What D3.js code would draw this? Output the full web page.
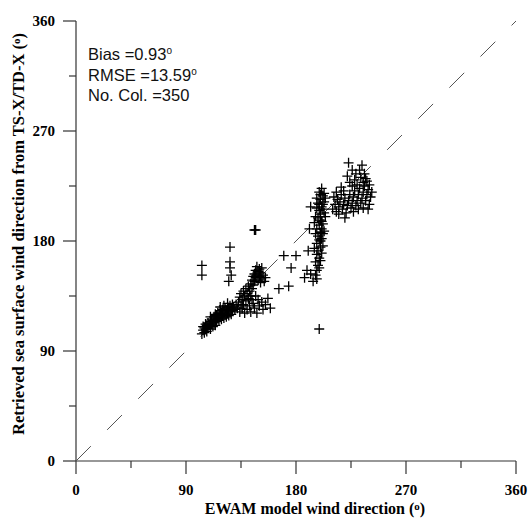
<!DOCTYPE html>
<html>
<head>
<meta charset="utf-8">
<script src="https://cdnjs.cloudflare.com/ajax/libs/d3/7.8.5/d3.min.js"></script>
<style>
    body { margin: 0; background: #fff; }
    svg { display: block; }
</style>
</head>
<body>
<div id="chart"></div>
<script>
// axis ticks (degrees)
var majorTicks = [0, 90, 180, 270, 360];
var minorTicks = [45, 135, 225, 315];

// annotation lines
var statLines = [
    {label: "Bias =0.93", deg: true},
    {label: "RMSE =13.59", deg: true},
    {label: "No. Col. =350", deg: false}
];

// [EWAM direction, retrieved direction]
var pointsLow = [
    [103,104],[104,107],[105,105],[105,109],[106,108],[107,106],[107,111],[108,109],[108,113],[109,111],
    [110,108],[110,114],[111,112],[111,116],[112,110],[112,115],[113,113],[113,118],[114,116],[114,111],
    [115,119],[115,114],[116,117],[116,121],[117,115],[117,120],[118,118],[118,123],[119,116],[119,121],
    [120,119],[120,124],[121,122],[121,117],[122,125],[122,120],[123,123],[123,118],[124,126],[124,121],
    [125,124],[125,119],[126,127],[126,122],[127,125],[127,120],[128,128],[128,123],[129,126],[130,124],
    [131,128],[132,125],[114,120],[118,126],[121,127],[124,129],[110,118],[106,112],[104,110]
];
var pointsMid = [
    [133,130],[134,134],[135,127],[135,137],[136,132],[137,139],[137,128],[138,135],[139,141],[139,131],
    [140,137],[141,143],[141,133],[142,139],[143,145],[143,135],[144,148],[144,141],[145,151],[145,144],
    [146,153],[146,147],[147,156],[147,150],[148,159],[148,152],[149,155],[149,148],[150,157],[150,151],
    [151,154],[151,146],[152,158],[152,150],[153,152],[154,147],[155,150],[134,122],[136,125],[138,121],
    [140,124],[142,127],[143,122],[145,129],[146,125],[148,121],[149,132],[150,127],[152,130],[153,124],
    [155,128],[157,133],[159,125],[147,135],[144,132]
];
var pointsColumn = [
    [196,152],[197,156],[198,160],[196,163],[199,166],[197,169],[198,172],[200,175],[197,178],[199,181],
    [198,184],[200,187],[197,190],[199,193],[201,196],[198,199],[200,202],[199,205],[201,208],[198,211],
    [200,214],[202,217],[199,220],[201,223],[203,219],[203,212],[202,206],[204,200],[202,194],[203,188],
    [201,182],[202,176],[201,170],[200,164],[199,158],[202,210],[204,215],[196,186],[195,174],[196,200],
    [197,207],[195,195],[200,197],[201,190],[202,186],[200,180],[199,210],[200,218],[197,215],[203,203],
    [190,172],[191,190],[192,208],[189,156],[192,153],[194,147],[197,149],[187,150]
];
var pointsTop = [
    [210,206],[212,210],[213,204],[214,214],[215,208],[216,212],[217,218],[218,206],[219,210],[220,215],
    [221,203],[222,209],[223,213],[224,218],[225,207],[226,211],[227,216],[228,221],[229,209],[230,213],
    [231,218],[232,223],[233,211],[234,215],[235,220],[236,225],[237,213],[238,218],[239,222],[240,210],
    [241,216],[242,220],[235,228],[233,232],[237,231],[230,226],[228,230],[226,225],[224,228],[222,233],
    [223,244],[226,238],[236,235],[238,229],[240,226],[231,206],[235,207],[239,206],[227,204],[217,224],
    [219,221],[213,220],[211,216],[215,202],[220,199],[232,238],[229,235],[234,242]
];
var pointsScatter = [
    [103,160],[103,152],[126,175],[126,163],[126,158],[127,152],[125,147],[146,189],[147,189],
    [170,168],[180,168],[176,158],[166,141],[174,143],[199,108]
];

var allPoints = pointsLow.concat(pointsMid, pointsColumn, pointsTop, pointsScatter);

var W = 528, H = 519;
var margin = {left: 76, top: 21};
var plotW = 440, plotH = 440;

var svg = d3.select("#chart").append("svg")
    .attr("width", W)
    .attr("height", H);

var x = d3.scaleLinear().domain([0, 360]).range([margin.left, margin.left + plotW]);
var y = d3.scaleLinear().domain([0, 360]).range([margin.top + plotH, margin.top]);

var AXIS_COLOR = "#333";
var serif = "'Liberation Serif', 'Times New Roman', serif";

// x axis
var xAxis = svg.append("g")
    .attr("transform", "translate(0," + y(0) + ")");
xAxis.append("line")
    .attr("x1", x(0)).attr("x2", x(360))
    .attr("stroke", AXIS_COLOR).attr("stroke-width", 1.2);
xAxis.selectAll(".major").data(majorTicks).enter().append("line")
    .attr("x1", function (d) { return x(d); })
    .attr("x2", function (d) { return x(d); })
    .attr("y1", 0).attr("y2", 13)
    .attr("stroke", AXIS_COLOR).attr("stroke-width", 1.2);
xAxis.selectAll(".minor").data(minorTicks).enter().append("line")
    .attr("x1", function (d) { return x(d); })
    .attr("x2", function (d) { return x(d); })
    .attr("y1", 0).attr("y2", 7)
    .attr("stroke", AXIS_COLOR).attr("stroke-width", 1.2);
xAxis.selectAll(".lbl").data(majorTicks).enter().append("text")
    .attr("x", function (d) { return x(d); })
    .attr("y", 34)
    .attr("text-anchor", "middle")
    .style("font-family", serif)
    .style("font-weight", "bold")
    .style("font-size", "15px")
    .text(function (d) { return d; });

// y axis
var yAxis = svg.append("g")
    .attr("transform", "translate(" + x(0) + ",0)");
yAxis.append("line")
    .attr("y1", y(0)).attr("y2", y(360))
    .attr("stroke", AXIS_COLOR).attr("stroke-width", 1.2);
yAxis.selectAll(".major").data(majorTicks).enter().append("line")
    .attr("y1", function (d) { return y(d); })
    .attr("y2", function (d) { return y(d); })
    .attr("x1", 0).attr("x2", -13)
    .attr("stroke", AXIS_COLOR).attr("stroke-width", 1.2);
yAxis.selectAll(".minor").data(minorTicks).enter().append("line")
    .attr("y1", function (d) { return y(d); })
    .attr("y2", function (d) { return y(d); })
    .attr("x1", 0).attr("x2", -7)
    .attr("stroke", AXIS_COLOR).attr("stroke-width", 1.2);
yAxis.selectAll(".lbl").data(majorTicks).enter().append("text")
    .attr("x", -21)
    .attr("y", function (d) { return y(d) + 5; })
    .attr("text-anchor", "end")
    .style("font-family", serif)
    .style("font-weight", "bold")
    .style("font-size", "15px")
    .text(function (d) { return d; });

// 1:1 line
svg.append("line")
    .attr("x1", x(0)).attr("y1", y(0))
    .attr("x2", x(360)).attr("y2", y(360))
    .attr("stroke", "#555")
    .attr("stroke-width", 1)
    .attr("stroke-dasharray", "21,23");

// points as + markers
var arm = 5;
svg.append("g").selectAll(".pt").data(allPoints).enter().append("path")
    .attr("class", "pt")
    .attr("d", function (d) {
        var px = x(d[0]), py = y(d[1]);
        return "M" + (px - arm) + "," + py + "H" + (px + arm) +
            "M" + px + "," + (py - arm) + "V" + (py + arm);
    })
    .attr("stroke", "#000")
    .attr("stroke-width", 1.3)
    .attr("fill", "none");

// stats text
var stats = svg.append("g");
statLines.forEach(function (s, i) {
    var t = stats.append("text")
        .attr("x", 88)
        .attr("y", 60 + i * 20.5)
        .style("font-family", "'Liberation Sans', Arial, sans-serif")
        .style("font-size", "16.5px")
        .attr("fill", "#111");
    t.append("tspan").text(s.label);
    if (s.deg) {
        t.append("tspan").attr("dy", -6).style("font-size", "10px").text("o");
    }
});

// axis titles
var xt = svg.append("text")
    .attr("x", 315)
    .attr("y", 514)
    .attr("text-anchor", "middle")
    .style("font-family", serif)
    .style("font-weight", "bold")
    .style("font-size", "16px");
xt.append("tspan").text("EWAM model wind direction (");
xt.append("tspan").attr("dy", -4).style("font-size", "11px").text("o");
xt.append("tspan").attr("dy", 4).text(")");

var yt = svg.append("text")
    .attr("transform", "translate(24,234) rotate(-90)")
    .attr("text-anchor", "middle")
    .style("font-family", serif)
    .style("font-weight", "bold")
    .style("font-size", "16.5px");
yt.append("tspan").text("Retrieved sea surface wind direction from TS-X/TD-X (");
yt.append("tspan").attr("dy", -4).style("font-size", "11px").text("o");
yt.append("tspan").attr("dy", 4).text(")");
</script>
</body>
</html>
